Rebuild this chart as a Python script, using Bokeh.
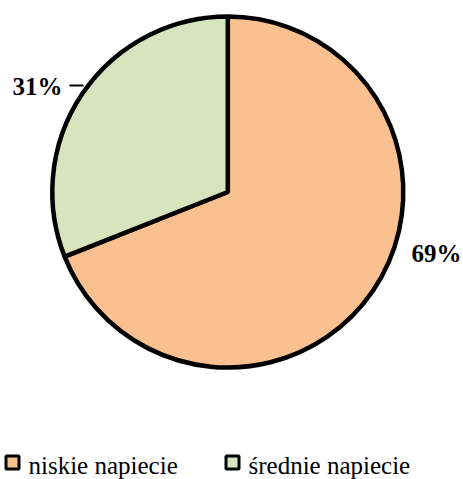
import numpy as np
from bokeh.plotting import figure
from bokeh.models import Range1d, ColumnDataSource
from bokeh.core.properties import value
from bokeh.embed import file_html
from bokeh.resources import INLINE

# Share of network length by voltage level
categories = ["niskie napiecie", "średnie napiecie"]
shares = [69, 31]
colors = ["#FAC090", "#D7E4BD"]

W, H = 463, 479
p = figure(width=W, height=H, output_backend="svg", toolbar_location=None,
           x_range=Range1d(0, W), y_range=Range1d(0, H),
           min_border=0, outline_line_color=None)
p.axis.visible = False
p.grid.visible = False
p.background_fill_color = "white"
p.border_fill_color = "white"

# Pie, starting at 12 o'clock and running clockwise
cx, cy, r = 227.3, H - 191.5, 175.5
frac = np.array(shares, dtype=float) / sum(shares)
ends = np.cumsum(frac)
starts = ends - frac
src = ColumnDataSource(dict(
    start=np.pi / 2 - 2 * np.pi * starts,
    end=np.pi / 2 - 2 * np.pi * ends,
    color=colors,
))
p.wedge(x=cx, y=cy, radius=r, start_angle="start", end_angle="end",
        direction="clock", fill_color="color", line_color="black",
        line_width=4.5, source=src)

# Percentage labels
label_font = value("'Liberation Serif', 'Times New Roman', Times, serif")
p.text(x=[411, 12], y=[H - 253, H - 86],
       text=[f"{s}%" for s in shares],
       text_font=label_font, text_font_style="bold", text_font_size="25px",
       text_baseline="alphabetic", text_align="left", text_color="black")
# leader line for the small slice label
p.line(x=[69, 83], y=[H - 85, H - 85], line_color="black", line_width=2)

# Legend along the bottom edge
leg_x = [12, 232]
p.scatter(x=leg_x, y=[H - 462] * 2, marker="square", size=13,
          fill_color=colors, line_color="black", line_width=3)
p.text(x=[x + 16 for x in leg_x], y=[H - 478] * 2, text=categories,
       text_font=label_font, text_font_size="25px",
       text_baseline="bottom", text_align="left", text_color="black")

open("out.html", "w").write(file_html(p, INLINE))
